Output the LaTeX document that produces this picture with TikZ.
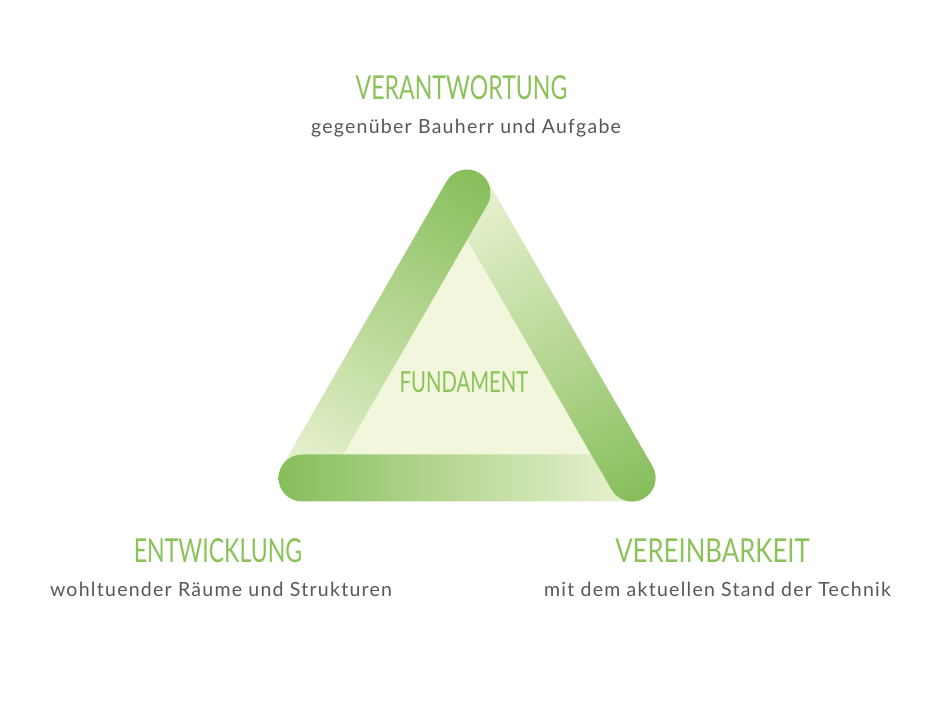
\documentclass[tikz,border=0pt]{standalone}
\usepackage{fontspec}
\setmainfont{Lato}[LetterSpace=6.5]
\newfontfamily\headfont[FakeStretch=0.7]{Lato}
\definecolor{bardark}{HTML}{86BE5A}
\definecolor{barlight}{HTML}{EAF2D2}
\definecolor{fundfill}{HTML}{F2F6DC}
\definecolor{headgreen}{HTML}{8BC25A}
\definecolor{subgray}{HTML}{57585A}
\newcommand{\greenbar}[2]{%
  \begin{scope}[transform canvas={shift={(#1)},rotate=#2}]
    \shade[left color=bardark,right color=barlight] (0,-23.5) arc [start angle=-90, end angle=-270,
    radius=23.5] -- (330,23.5) -- (330,-23.5) -- cycle;
  \end{scope}}

\begin{document}
\begin{tikzpicture}[x=1pt,y=1pt,
  head/.style={text=headgreen,font=\headfont\fontsize{33}{33}\selectfont,anchor=base,inner sep=0pt},
  sub/.style={text=subgray,font=\fontsize{19.5}{21}\selectfont,anchor=base,inner sep=0pt}]
  \useasboundingbox[fill=white] (0,0) rectangle (940,720);
  \coordinate (top) at (467,527);
  \coordinate (left) at (302,242);
  \coordinate (right) at (632,242);
  \fill[fundfill] (top) -- (left) -- (right) -- cycle;

  \greenbar{632,242}{120}
  \greenbar{467,527}{240}
  \greenbar{302,242}{0}
  \begin{scope}[transform canvas={shift={(632,242)},rotate=120}]
    \clip (-30,-30) rectangle (70,30);
    \shade[left color=bardark,right color=barlight] (0,-23.5) arc [start angle=-90, end angle=-270,
    radius=23.5] -- (330,23.5) -- (330,-23.5) -- cycle;
  \end{scope}

  \node[head] (verantwortung) at (461.5,620.7) {VERANTWORTUNG};
  \node[sub] (bauherr) at (466,586) {gegenüber Bauherr und Aufgabe};
  \node[head,font=\headfont\fontsize{29}{29}\selectfont] (fundament) at (464,327) {FUNDAMENT};
  \node[head] (entwicklung) at (218,157) {ENTWICKLUNG};
  \node[sub] (raeume) at (221,123.3) {wohltuender Räume und Strukturen};
  \node[head,font=\headfont\fontsize{33}{33}\selectfont\addfontfeature{FakeStretch=0.78}] (vereinbarkeit) at (712.5,157) {VEREINBARKEIT};
  \node[sub] (technik) at (717.5,123.3) {mit dem aktuellen Stand der Technik};

\end{tikzpicture}
\end{document}
